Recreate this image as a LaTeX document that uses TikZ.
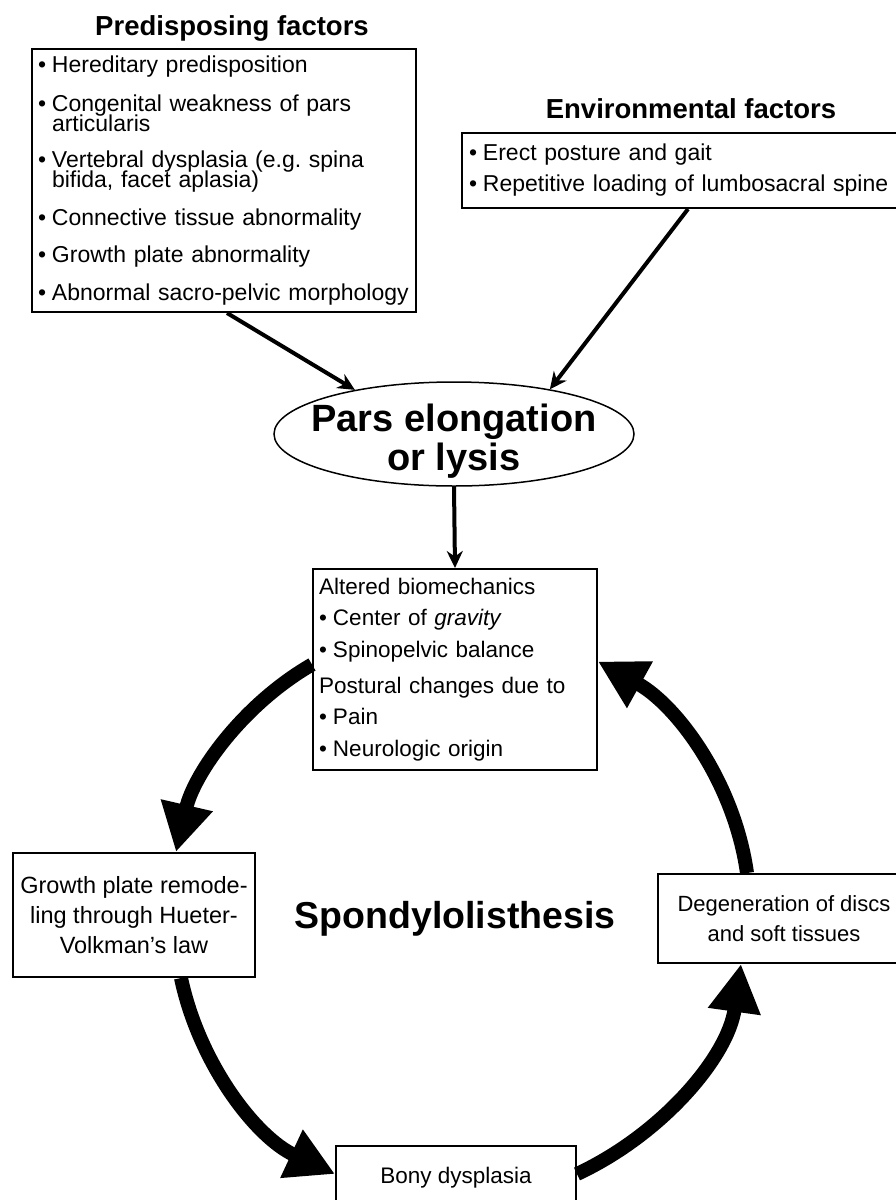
\documentclass[tikz,border=0pt]{standalone}
\usepackage{fontspec}
\setmainfont{Liberation Sans}
\usetikzlibrary{arrows.meta,shapes.geometric}
\newcommand{\fsz}[2]{\fontsize{#1}{#2}\selectfont\lineskiplimit=-100pt\lineskip=0pt\normallineskiplimit=-100pt}
\newcommand{\itm}{\makebox[14pt][l]{\textbullet}}
\newcommand{\ind}{\hspace*{14pt}}
\begin{document}
\begin{tikzpicture}[x=1pt,y=1pt,
  box/.style={draw, line width=2pt, inner sep=0pt, anchor=north west},
  thinarr/.style={line width=4pt, -{Stealth[length=17pt,width=16pt]}},
  cyc/.style={line width=14pt, -{Triangle[length=48pt,width=50pt]}},
  ttl/.style={font=\bfseries\fsz{27.5}{30}, anchor=base, inner sep=0pt}]
\useasboundingbox (0,0) rectangle (896,-1200);
\fill[white] (0,0) rectangle (896,-1200);

\node[ttl] (predt) at (232,-35) {Predisposing factors};
\node[box, minimum width=384pt, minimum height=263pt, text width=372pt, inner xsep=6pt, align=left, font=\fsz{23}{20}] (pred) at (31,-48)
 {\itm Hereditary predisposition\\[19pt]
  \itm Congenital weakness of pars\\
  \ind articularis\\[16pt]
  \itm Vertebral dysplasia (e.g.\ spina\\
  \ind bifida, facet aplasia)\\[18pt]
  \itm Connective tissue abnormality\\[17pt]
  \itm Growth plate abnormality\\[18pt]
  \itm Abnormal sacro-pelvic morphology};

\node[ttl] (envt) at (691,-118) {Environmental factors};
\node[box, minimum width=445pt, minimum height=75pt, text width=431pt, inner xsep=7pt, align=left, font=\fsz{23}{31}] (env) at (461,-132)
 {\itm Erect posture and gait\\
  \itm Repetitive loading of lumbosacral spine};

\node[draw, ellipse, line width=1.5pt, minimum width=360pt, minimum height=104pt, inner sep=0pt] (ell) at (454,-434) {};
\node[font=\bfseries\fsz{38}{39}, align=center, inner sep=0pt] (ellt) at (454,-441) {Pars elongation\\or lysis};

\node[box, minimum width=284pt, minimum height=201pt, text width=272pt, inner xsep=6pt, align=left, font=\fsz{22.5}{31.5}] (alt) at (312,-568)
 {Altered biomechanics\\
  \itm Center of \textit{gravity}\\
  \itm Spinopelvic balance\\[4.5pt]
  Postural changes due to\\
  \itm Pain\\
  \itm Neurologic origin};

\node[box, minimum width=242pt, minimum height=124pt, align=center, font=\fsz{23.5}{30}] (grow) at (12,-852)
 {Growth plate remode-\\ling through Hueter-\\Volkman's law};

\node[font=\bfseries\fsz{37.5}{40}, anchor=base, inner sep=0pt] (sp) at (455,-928) {Spondylolisthesis};

\node[box, minimum width=252pt, minimum height=89pt, align=center, font=\fsz{22}{30}] (deg) at (657,-873)
 {Degeneration of discs\\and soft tissues};

\node[box, minimum width=240pt, minimum height=64pt, font=\fsz{22.5}{26}] (bony) at (335,-1145) {Bony dysplasia};

\draw[thinarr] ([xshift=196pt]pred.south west) -- (ell.156);
\draw[thinarr] ([xshift=227pt]env.south west) -- (ell.25);
\draw[thinarr] (ell.south) -- (alt.north);

\draw[cyc] ([yshift=5pt]alt.west) to[out=210, in=77, looseness=0.89] ([xshift=42pt]grow.north);
\draw[cyc] ([xshift=47pt]grow.south) to[out=282, in=155, looseness=0.9] ([yshift=4pt]bony.west);
\draw[cyc] ([yshift=4pt]bony.east) to[out=25, in=262, looseness=0.9] ([xshift=-43pt]deg.south);
\draw[cyc] ([xshift=-37pt]deg.north) to[out=98, in=331, looseness=0.9] ([yshift=8pt]alt.east);
\end{tikzpicture}
\end{document}
